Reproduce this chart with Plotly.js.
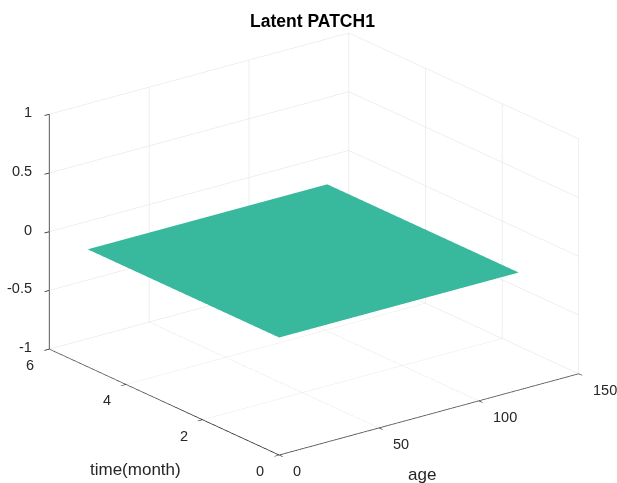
<!DOCTYPE html>
<html>
<head>
<meta charset="utf-8">
<script src="https://cdn.plot.ly/plotly-3.0.1.min.js"></script>
<style>html,body{margin:0;padding:0;background:#fff;}#chart{width:617px;height:483px;}</style>
</head>
<body>
<div id="chart"></div>
<script>
// Data
const ageValues = [0, 120];
const timeValues = [0, 5];
const latentValues = [[0, 0], [0, 0]]; // rows: time, cols: age
const ageTicks = [0, 50, 100, 150];
const ageTickLabels = ['0', '50', '100', '150'];
const timeTicks = [0, 2, 4, 6];
const timeTickLabels = ['0', '2', '4', '6'];
const zTicks = [-1, -0.5, 0, 0.5, 1];
const zTickLabels = ['-1', '-0.5', '0', '0.5', '1'];
const ageRange = [0, 150];
const timeRange = [0, 6];
const zRange = [-1, 1];

const axCol = '#202020';
const gridCol = '#e0e0e0';
const fam = 'Liberation Sans, Arial, sans-serif';
const tickFont = {family: fam, size: 14.5, color: '#262626'};
const labelFont = {family: fam, size: 17, color: '#262626'};

const trace = {
  type: 'surface',
  x: ageValues,
  y: timeValues,
  z: latentValues,
  colorscale: [[0, '#38b99e'], [1, '#38b99e']],
  showscale: false,
  lighting: {ambient: 1, diffuse: 0, specular: 0, roughness: 1, fresnel: 0},
  hoverinfo: 'skip'
};

const baseAxis = {
  showgrid: true, gridcolor: gridCol, gridwidth: 1,
  showline: true, linecolor: axCol, linewidth: 1.6,
  zeroline: false, showbackground: false, showspikes: false,
  ticks: 'outside', ticklen: 6, tickwidth: 1.6, tickcolor: axCol,
  showticklabels: false, mirror: false, title: {text: ''}
};

// MATLAB-like horizontal tick labels, placed at the data positions of the box edges
const sceneAnn = [];
ageTicks.forEach(function (v, i) {
  sceneAnn.push({x: v, y: timeRange[0], z: zRange[0], text: ageTickLabels[i], showarrow: false,
    xanchor: 'left', yanchor: 'middle', xshift: 12, yshift: -16, font: tickFont});
});
timeTicks.forEach(function (v, i) {
  sceneAnn.push({x: ageRange[0], y: v, z: zRange[0], text: timeTickLabels[i], showarrow: false,
    xanchor: 'center', yanchor: 'middle', xshift: -19, yshift: -16, font: tickFont});
});
zTicks.forEach(function (v, i) {
  sceneAnn.push({x: ageRange[0], y: timeRange[1], z: v, text: zTickLabels[i], showarrow: false,
    xanchor: 'right', yanchor: 'middle', xshift: -15, yshift: 2, font: tickFont});
});

const a = 37.5 * Math.PI / 180, e = 20.7 * Math.PI / 180, r = 1.21;
const eye = {x: -r * Math.cos(e) * Math.sin(a), y: -r * Math.cos(e) * Math.cos(a), z: r * Math.sin(e)};
const s = 1.58;

const layout = {
  width: 617, height: 483,
  margin: {l: 0, r: 0, t: 0, b: 0},
  paper_bgcolor: '#fff',
  font: tickFont,
  title: {text: '<b>Latent PATCH1</b>', x: 0.5065, xanchor: 'center', y: 0.957, yanchor: 'middle',
    font: {family: fam, size: 17.5, color: '#000'}},
  annotations: [
    {xref: 'paper', yref: 'paper', x: 0.684, y: 0.0166, text: 'age', showarrow: false,
      xanchor: 'center', yanchor: 'middle', font: labelFont},
    {xref: 'paper', yref: 'paper', x: 0.219, y: 0.0284, text: 'time(month)', showarrow: false,
      xanchor: 'center', yanchor: 'middle', font: labelFont}
  ],
  scene: {
    domain: {x: [0.018, 1], y: [0, 0.99]},
    xaxis: Object.assign({}, baseAxis, {range: ageRange, tickvals: ageTicks}),
    yaxis: Object.assign({}, baseAxis, {range: timeRange, tickvals: timeTicks}),
    zaxis: Object.assign({}, baseAxis, {range: zRange, tickvals: zTicks}),
    aspectmode: 'manual',
    aspectratio: {x: s, y: s, z: 0.665 * s},
    camera: {eye: eye, up: {x: 0, y: 0, z: 1}, center: {x: 0, y: 0, z: 0}, projection: {type: 'orthographic'}},
    annotations: sceneAnn
  }
};

Plotly.newPlot('chart', [trace], layout, {displayModeBar: false});
</script>
</body>
</html>
